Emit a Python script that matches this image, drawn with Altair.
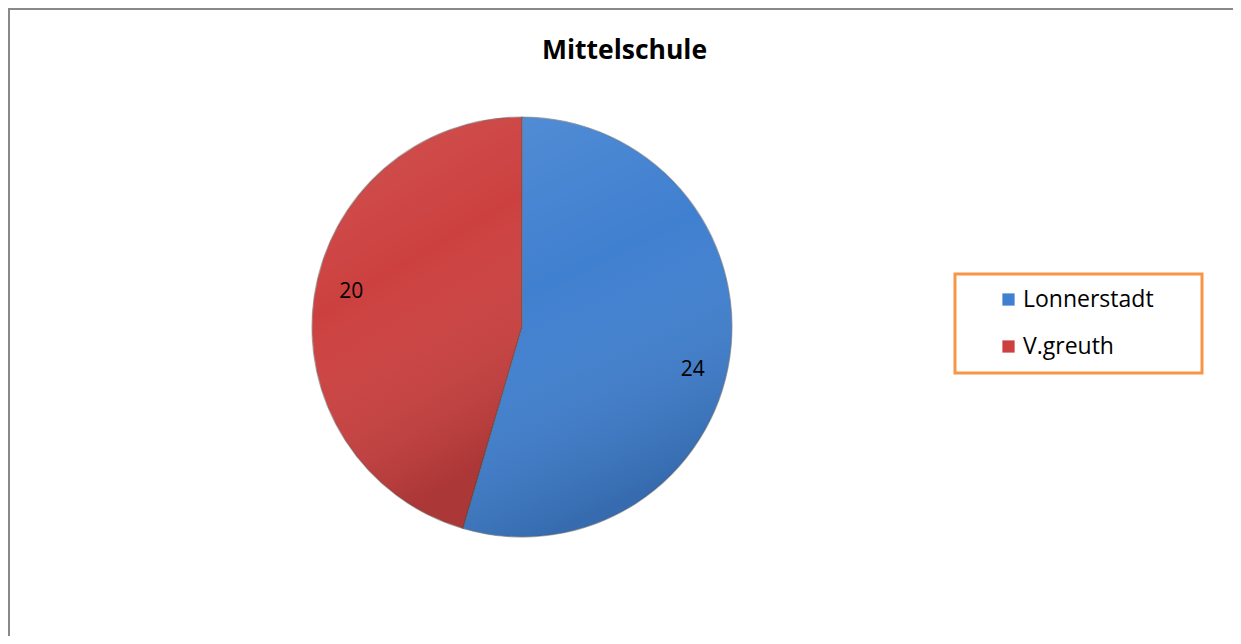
import altair as alt
import pandas as pd

categories = ["Lonnerstadt", "V.greuth"]
values = [24, 20]
order = [0, 1]
colors = ["#4080d0", "#cc4140"]

df = pd.DataFrame({"category": categories, "value": values, "order": order})

W, H = 1225, 628
CX, CY, R = 514, 319, 210

base = alt.Chart(df).transform_window(
    cum="sum(value)", sort=[alt.SortField("order")]
).transform_joinaggregate(total="sum(value)").transform_calculate(
    t0="(datum.cum - datum.value) / datum.total * 2 * PI",
    t1="datum.cum / datum.total * 2 * PI",
)

arcs = base.mark_arc(radius=R, stroke="#ffffff", strokeWidth=0.5).encode(
    x=alt.value(CX), y=alt.value(CY),
    theta=alt.Theta("t0:Q", scale=None), theta2="t1:Q",
    color=alt.Color(
        "category:N",
        scale=alt.Scale(domain=categories, range=colors),
        legend=alt.Legend(
            title=None,
            labelExpr="datum.label + '\u2800\u2800'",
        ),
    ),
)

shade = base.mark_arc(
    radius=R,
    stroke="rgba(0,0,0,0.3)",
    strokeWidth=1.2,
    fill=alt.Gradient(
        gradient="linear", x1=0, y1=0, x2=0.3, y2=1,
        stops=[
            alt.GradientStop(color="rgba(255,255,255,0.10)", offset=0),
            alt.GradientStop(color="rgba(255,255,255,0.0)", offset=0.45),
            alt.GradientStop(color="rgba(0,0,0,0.16)", offset=1),
        ],
    ),
).encode(
    x=alt.value(CX), y=alt.value(CY),
    theta=alt.Theta("t0:Q", scale=None), theta2="t1:Q",
)

labels = base.transform_calculate(
    tm="(datum.t0 + datum.t1) / 2 + 0.08"
).mark_text(radius=175, fontSize=21, font="Open Sans", color="#000000", dy=4).encode(
    x=alt.value(CX), y=alt.value(CY),
    theta=alt.Theta("tm:Q", scale=None),
    text=alt.Text("value:Q"),
)

border_left = alt.Chart(df).mark_rule(color="#898989", strokeWidth=2).encode(
    x=alt.value(1), y=alt.value(1), y2=alt.value(H)
)
border_top = alt.Chart(df).mark_rule(color="#898989", strokeWidth=2).encode(
    x=alt.value(0), x2=alt.value(W), y=alt.value(1)
)

chart = alt.layer(arcs, shade, labels, border_left, border_top).properties(
    width=W, height=H,
    autosize=alt.AutoSizeParams(type="none"),
    padding=0,
    title=alt.TitleParams(
        "Mittelschule", fontSize=26.5, font="Open Sans", fontWeight="bold",
        color="#000000", anchor="middle", offset=-56, dx=4,
    ),
).configure_view(stroke=None).configure_legend(
    orient="none", legendX=947, legendY=266,
    strokeColor="#f79646", strokeWidth=3,
    padding=14, symbolOffset=28,
    symbolType="square", symbolSize=150, symbolStrokeWidth=0,
    labelFontSize=23, labelFont="Open Sans", labelColor="#000000",
    rowPadding=23, labelLimit=400, labelOffset=3,
)

chart.save("out.html", embed_options={"renderer": "svg", "actions": False})
